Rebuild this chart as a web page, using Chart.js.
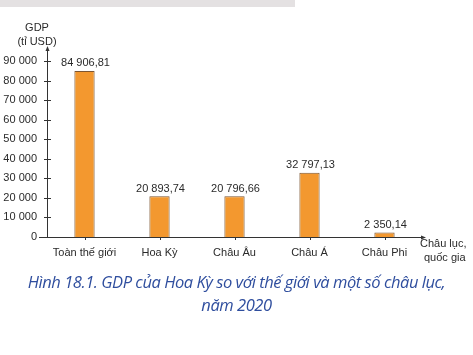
<!DOCTYPE html>
<html>
<head>
<meta charset="utf-8">
<script src="https://cdn.jsdelivr.net/npm/chart.js@4.4.1/dist/chart.umd.min.js"></script>
<style>
  html, body { margin: 0; padding: 0; background: #fff; }
  #wrap { position: relative; width: 473px; height: 355px; overflow: hidden; }
  #band { position: absolute; left: 0; top: 0; width: 295px; height: 7px; background: #e4e1e2; }
  #chart { position: absolute; left: 0; top: 0; }
  #caption {
    position: absolute; left: 0; top: 270px; width: 473px;
    text-align: center; color: #2f4e9e;
    font-family: "Open Sans", "Noto Sans", sans-serif; font-style: italic;
    font-size: 16.5px; line-height: 23px; letter-spacing: -0.45px;
  }
</style>
</head>
<body>
<div id="wrap">
  <div id="band"></div>
  <canvas id="chart" width="473" height="355"></canvas>
  <div id="caption">Hình 18.1. GDP của Hoa Kỳ so với thế giới và một số châu lục,<br>năm 2020</div>
</div>
<script>
var categories = ["Toàn thế giới", "Hoa Kỳ", "Châu Âu", "Châu Á", "Châu Phi"];
var gdpValues = [84906.81, 20893.74, 20796.66, 32797.13, 2350.14];
var valueLabels = ["84 906,81", "20 893,74", "20 796,66", "32 797,13", "2 350,14"];
var yTicks = [0, 10000, 20000, 30000, 40000, 50000, 60000, 70000, 80000, 90000];

var textColor = "#2a2a2a";
var fontFamily = "'Liberation Sans', Arial, sans-serif";

function formatThousands(v) {
  return String(v).replace(/\B(?=(\d{3})+(?!\d))/g, " ");
}

// axes with arrows, cross ticks, value labels and axis titles
var decorations = {
  id: "decorations",
  afterDatasetsDraw: function (chart) {
    var ctx = chart.ctx;
    var area = chart.chartArea;
    var x = chart.scales.x;
    var y = chart.scales.y;
    var y0 = y.getPixelForValue(0);

    ctx.save();
    ctx.strokeStyle = "#333";
    ctx.fillStyle = "#333";
    ctx.lineWidth = 1;

    // y axis
    ctx.beginPath();
    ctx.moveTo(area.left + 0.5, y0);
    ctx.lineTo(area.left + 0.5, area.top - 12);
    ctx.stroke();
    ctx.beginPath();
    ctx.moveTo(area.left + 0.5, area.top - 15);
    ctx.lineTo(area.left - 1.5, area.top - 10);
    ctx.lineTo(area.left + 2.5, area.top - 10);
    ctx.closePath();
    ctx.fill();

    yTicks.forEach(function (t) {
      if (t === 0) return;
      var py = Math.round(y.getPixelForValue(t)) + 0.5;
      ctx.beginPath();
      ctx.moveTo(area.left - 3, py);
      ctx.lineTo(area.left + 4, py);
      ctx.stroke();
    });

    // x axis
    ctx.beginPath();
    ctx.moveTo(area.left - 8, Math.round(y0) + 0.5);
    ctx.lineTo(area.right, Math.round(y0) + 0.5);
    ctx.stroke();
    ctx.beginPath();
    ctx.moveTo(area.right + 4, Math.round(y0) + 0.5);
    ctx.lineTo(area.right - 1, Math.round(y0) - 1.5);
    ctx.lineTo(area.right - 1, Math.round(y0) + 2.5);
    ctx.closePath();
    ctx.fill();

    categories.forEach(function (c, i) {
      var px = Math.round(x.getPixelForValue(i)) + 0.5;
      ctx.beginPath();
      ctx.moveTo(px, y0);
      ctx.lineTo(px, y0 + 3);
      ctx.stroke();
    });

    // value labels
    ctx.font = "11px " + fontFamily;
    ctx.fillStyle = textColor;
    ctx.textAlign = "center";
    ctx.textBaseline = "bottom";
    var meta = chart.getDatasetMeta(0);
    meta.data.forEach(function (bar, i) {
      ctx.fillText(valueLabels[i], bar.x + 1, bar.y - 2);
    });

    // axis titles
    ctx.textBaseline = "middle";
    ctx.fillText("GDP", 37, 28);
    ctx.fillText("(tỉ USD)", 37, 42);
    ctx.textAlign = "left";
    ctx.fillText("Châu lục,", 420, 244);
    ctx.fillText("quốc gia", 424, 258);
    ctx.restore();
  }
};

new Chart(document.getElementById("chart"), {
  type: "bar",
  data: {
    labels: categories,
    datasets: [{
      data: gdpValues,
      backgroundColor: "#f3982f",
      borderColor: "#7d5632",
      borderWidth: 1,
      barPercentage: 0.27,
      categoryPercentage: 1
    }]
  },
  options: {
    responsive: false,
    animation: false,
    layout: { padding: { left: 0, top: 61, right: 51, bottom: 88 } },
    plugins: { legend: { display: false }, tooltip: { enabled: false } },
    scales: {
      x: {
        grid: { display: false, tickLength: 0 },
        border: { display: false },
        ticks: { color: textColor, font: { family: fontFamily, size: 11 }, padding: 9 },
        afterFit: function (s) { s.height = 30; }
      },
      y: {
        min: 0,
        max: 90000,
        afterBuildTicks: function (s) { s.ticks = yTicks.map(function (v) { return { value: v }; }); },
        grid: { display: false, tickLength: 0 },
        border: { display: false },
        ticks: {
          color: textColor,
          font: { family: fontFamily, size: 11 },
          padding: 10,
          callback: function (v) { return formatThousands(v); }
        },
        afterFit: function (s) { s.width = 47; }
      }
    }
  },
  plugins: [decorations]
});
</script>
</body>
</html>
